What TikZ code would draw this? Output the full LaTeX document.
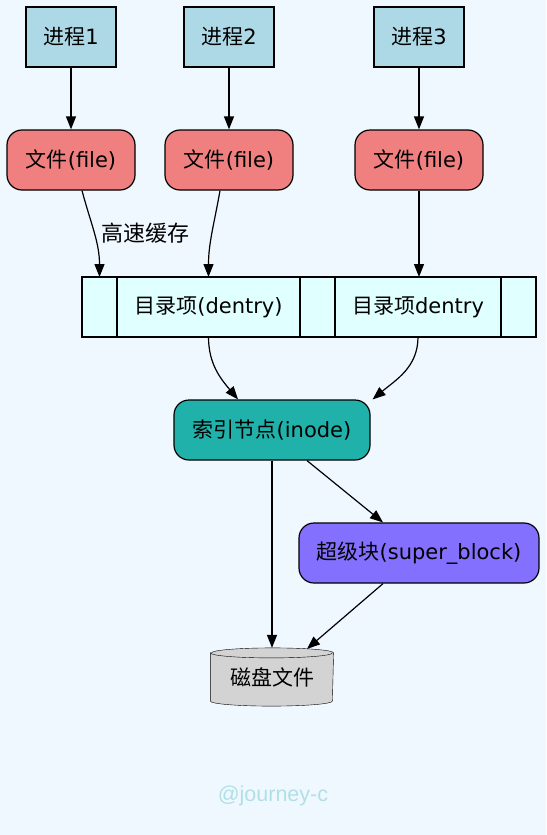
\documentclass[tikz,border=0pt]{standalone}
\usepackage{fontspec}
\setmainfont{DejaVu Sans}
\newfontfamily\zhfont{Noto Sans CJK SC}
\newfontfamily\markfont{Liberation Sans}
\usetikzlibrary{arrows.meta,calc,backgrounds}
\newcommand{\zh}[1]{{\zhfont #1}}
\definecolor{bgblue}{RGB}{240,248,255}
\definecolor{procblue}{RGB}{173,216,230}
\definecolor{filered}{RGB}{240,128,128}
\definecolor{dentcyan}{RGB}{224,255,255}
\definecolor{inodegreen}{RGB}{32,178,170}
\definecolor{superviolet}{RGB}{132,112,255}
\definecolor{diskgray}{RGB}{211,211,211}
\definecolor{markblue}{RGB}{176,224,230}
\tikzset{
  proc/.style={draw, fill=procblue, minimum width=90pt, minimum height=60pt},
  filebox/.style={draw, fill=filered, rounded corners=15pt, minimum width=128pt, minimum height=60pt},
  field/.style={draw, fill=dentcyan, minimum height=60pt, inner sep=0pt, outer sep=0pt, anchor=west},
  roundbox/.style={draw, rounded corners=15pt, minimum height=60pt},
  edge/.style={-{Triangle[length=13pt,width=10pt]}},
}
\begin{document}
\begin{tikzpicture}[x=1pt, y=-1pt, line width=1.2pt, font=\fontsize{21pt}{25pt}\selectfont]
            \begin{scope}[on background layer]
            \fill[bgblue](0,0)rectangle(546,835);
            \end{scope}
            \useasboundingbox(0,0)rectangle(546,835);
            % processes and files
            \node[proc](p1)at(71,37){\zh{进程}1};
            \node[proc](p2)at(229,37){\zh{进程}2};
            \node[proc](p3)at(419,37){\zh{进程}3};
            \foreach \i/\x in{1/71,2/229,3/419}
            \node[filebox](f\i)at(\x,160){\zh{文件}(file)};
            % dentry record
            \node[field, minimum width=35pt](d0)at(82,307){};
            \node[field, minimum width=183pt](dent1)at(d0.east){\zh{目录项}(dentry)};
            \node[field, minimum width=35pt](d2)at(dent1.east){};
            \node[field, minimum width=166pt](dent2)at(d2.east){\zh{目录项}dentry};
            \node[field, minimum width=35pt](d4)at(dent2.east){};
            % inode, super block, disk
            \node[roundbox, fill=inodegreen, minimum width=196pt](inode)at(272,430){\zh{索引节点}(inode)};
            \node[roundbox, fill=superviolet, minimum width=240pt](super)at(419,553){\zh{超级块}(super\_block)};
            \node[minimum width=122pt, minimum height=57pt, inner sep=0pt](disk)at(272,677){\zh{磁盘文件}};
            \begin{scope}[on background layer]
            \draw[fill=diskgray]($(disk.north west)+(0,5)$)--($(disk.south west)+(0,-5)$)arc[start angle=180, end angle=360, x radius=61pt, y radius=5pt]--($(disk.north east)+(0,5)$)arc[start angle=0, end angle=180, x radius=61pt, y radius=5pt]--cycle;
            \draw($(disk.north west)+(0,5)$)arc[start angle=180, end angle=360, x radius=61pt, y radius=5pt];
            \end{scope}
            % connectors
            \foreach \i in{1,2,3}
            \draw[edge](p\i)--(f\i);
            \draw[edge]($(f1.south)+(11,0)$)to[out=-75, in=90]node[pos=0.5, anchor=west, xshift=3pt, font=\fontsize{22pt}{26pt}\zhfont]{高速缓存}(d0.north);
            \draw[edge]($(f2.south)+(-9,0)$)to[out=-100, in=90](dent1.north);
            \draw[edge](f3.south)--(f3.south|-dent2.north);
            \draw[edge](dent1.south)to[out=-90, in=130]($(inode.north)+(-34,0)$);
            \draw[edge](dent2.south)to[out=-90, in=40]($(inode.north east)+(2,0)$);
            \draw[edge](inode.south)--(disk.north);
            \draw[edge]($(inode.south)+(35,0)$)--($(super.north)+(-36,0)$);
            \draw[edge]($(super.south)+(-36,0)$)--($(disk.north)+(35,1)$);
            \node[text=markblue, font=\fontsize{21.5pt}{25pt}\markfont](mark)at(273,796){@journey-c};
\end{tikzpicture}
\end{document}
